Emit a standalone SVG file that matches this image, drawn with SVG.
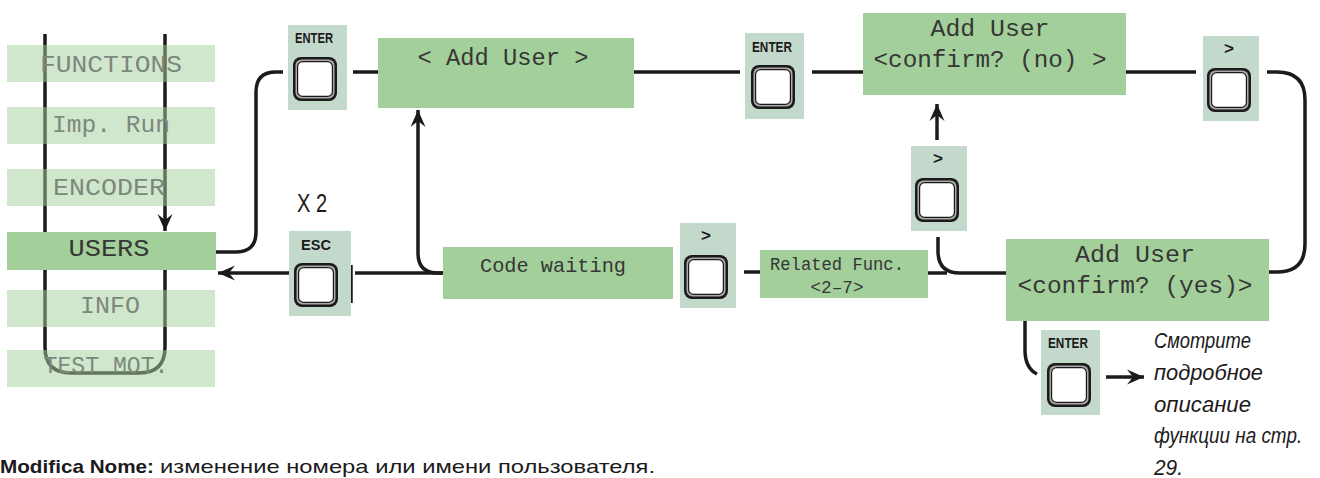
<svg xmlns="http://www.w3.org/2000/svg" xmlns:xlink="http://www.w3.org/1999/xlink" width="1320" height="478" viewBox="0 0 1320 478">
<style>
.ln{fill:none;stroke:#1c1a1b;stroke-width:3.5;stroke-linecap:butt}
.panel{fill:#c3d9cb}
.lcd{fill:#a3cf9b}
.menu{fill:#a3cf9b;opacity:0.5}
.lt{font-family:"Liberation Mono","DejaVu Sans Mono",monospace;fill:#363636;text-anchor:middle}
.mt{font-family:"Liberation Mono","DejaVu Sans Mono",monospace;fill:#7d887c;text-anchor:middle;font-size:24px}
.key{font-family:"Liberation Sans",Arial,sans-serif;font-weight:bold;fill:#1c1a1b;text-anchor:middle}
.ru{font-family:"Liberation Sans",Arial,sans-serif;font-style:italic;fill:#1c1a1b;font-size:22px}
</style>
<defs>
<g id="btn">
<rect x="0" y="0" width="44" height="44" rx="8" fill="#1c1a1b"/>
<rect x="2.5" y="2.5" width="39" height="39" rx="6" fill="#a9a9a9"/>
<rect x="4.6" y="4.6" width="34.8" height="34.8" rx="5" fill="#ffffff" stroke="#1c1a1b" stroke-width="1.2"/>
</g>
<marker id="ah" viewBox="-18 -8 19 16" refX="0" refY="0" markerWidth="19" markerHeight="16" markerUnits="userSpaceOnUse" orient="auto">
<path d="M0,0 L-17,-7.5 L-11,0 L-17,7.5 Z" fill="#1c1a1b"/>
</marker>
</defs>
<rect width="1320" height="478" fill="#ffffff"/>

<g id="connectors">
<path class="ln" d="M45,34 V347 Q45,373 71,373 H139 Q165,373 165,347 V270"/>
<path class="ln" d="M165,34 V231" marker-end="url(#ah)"/>
<path class="ln" d="M216,252 H236 Q256,252 256,232 V92 Q256,72 276,72 H283"/>
<path class="ln" d="M353,72 H378"/>
<path class="ln" d="M634,72 H740"/>
<path class="ln" d="M812,72 H863"/>
<path class="ln" d="M1126,72 H1196"/>
<path class="ln" d="M1267,72 H1277 Q1305,72 1305,100 V244 Q1305,272 1277,272 H1269"/>
<path class="ln" d="M289,273 H218" marker-end="url(#ah)"/>
<path class="ln" d="M351,265 V303"/>
<path class="ln" d="M355,273 H443"/>
<path class="ln" d="M443,273 H438 Q418,273 418,253 V110" marker-end="url(#ah)"/>
<path class="ln" d="M744,272 H760"/>
<path class="ln" d="M927,273 H947"/>
<path class="ln" d="M938,237 V251 Q938,273 960,273 H1006"/>
<path class="ln" d="M937,140 V104" marker-end="url(#ah)"/>
<path class="ln" d="M1025,321 V350 Q1025,368 1037,374"/>
<path class="ln" d="M1106,377 H1144" marker-end="url(#ah)"/>
</g>

<g id="menu-functions"><rect class="menu" x="7" y="45" width="208" height="37"/><text class="mt" x="111" y="72" textLength="142" lengthAdjust="spacingAndGlyphs">FUNCTIONS</text></g>
<g id="menu-imprun"><rect class="menu" x="7" y="107" width="208" height="37"/><text class="mt" x="111" y="132" textLength="118" lengthAdjust="spacingAndGlyphs">Imp. Run</text></g>
<g id="menu-encoder"><rect class="menu" x="7" y="169" width="208" height="37"/><text class="mt" x="109" y="195" textLength="112" lengthAdjust="spacingAndGlyphs">ENCODER</text></g>
<g id="menu-users"><rect class="lcd" x="7" y="232" width="209" height="38"/><text class="lt" x="109" y="256" font-size="24" textLength="81" lengthAdjust="spacingAndGlyphs">USERS</text></g>
<g id="menu-info"><rect class="menu" x="7" y="290" width="208" height="37"/><text class="mt" x="110" y="313" textLength="60" lengthAdjust="spacingAndGlyphs">INFO</text></g>
<g id="menu-testmot"><rect class="menu" x="7" y="350" width="208" height="37"/><text class="mt" x="106" y="373" textLength="125" lengthAdjust="spacingAndGlyphs">TEST MOT.</text></g>

<g id="key-enter1"><rect class="panel" x="288" y="25" width="59" height="85"/><text class="key" x="314" y="43" font-size="14" textLength="38" lengthAdjust="spacingAndGlyphs">ENTER</text><use xlink:href="#btn" x="293" y="57"/></g>

<g id="lcd-adduser"><rect class="lcd" x="378" y="38" width="256" height="70"/><text class="lt" x="503" y="65" font-size="24" textLength="171" lengthAdjust="spacingAndGlyphs">&lt; Add User &gt;</text></g>

<g id="key-enter2"><rect class="panel" x="745" y="33" width="59" height="86"/><text class="key" x="772" y="52" font-size="14" textLength="40" lengthAdjust="spacingAndGlyphs">ENTER</text><use xlink:href="#btn" x="751" y="65"/></g>

<g id="lcd-confirm-no"><rect class="lcd" x="863" y="13" width="263" height="82"/><text class="lt" x="990" y="36" font-size="24" textLength="119" lengthAdjust="spacingAndGlyphs">Add User</text><text class="lt" x="990" y="67" font-size="24" textLength="233" lengthAdjust="spacingAndGlyphs">&lt;confirm? (no) &gt;</text></g>

<g id="key-next4"><rect class="panel" x="1203" y="36" width="56" height="85"/><text class="key" x="1229" y="54" font-size="17">&gt;</text><use xlink:href="#btn" x="1207" y="68"/></g>

<g id="key-esc"><rect class="panel" x="289" y="231" width="62" height="85"/><text class="key" x="316" y="250" font-size="14" textLength="30" lengthAdjust="spacingAndGlyphs">ESC</text><use xlink:href="#btn" x="294" y="263"/></g>
<text id="label-x2" x="297" y="212" font-family="'Liberation Sans',Arial,sans-serif" font-size="25" fill="#1c1a1b" textLength="30" lengthAdjust="spacingAndGlyphs">X 2</text>

<g id="lcd-codewaiting"><rect class="lcd" x="443" y="247" width="230" height="52"/><text class="lt" x="553" y="272" font-size="21" textLength="146" lengthAdjust="spacingAndGlyphs">Code waiting</text></g>

<g id="key-next2"><rect class="panel" x="680" y="223" width="56" height="85"/><text class="key" x="706" y="241" font-size="17">&gt;</text><use xlink:href="#btn" x="684" y="255"/></g>

<g id="lcd-related"><rect class="lcd" x="760" y="250" width="168" height="48"/><text class="lt" x="837" y="270" font-size="18" textLength="134" lengthAdjust="spacingAndGlyphs">Related Func.</text><text class="lt" x="837" y="293" font-size="18" textLength="53" lengthAdjust="spacingAndGlyphs">&lt;2–7&gt;</text></g>

<g id="key-next3"><rect class="panel" x="911" y="146" width="56" height="85"/><text class="key" x="938" y="164" font-size="17">&gt;</text><use xlink:href="#btn" x="915" y="178"/></g>

<g id="lcd-confirm-yes"><rect class="lcd" x="1006" y="239" width="263" height="82"/><text class="lt" x="1135" y="262" font-size="24" textLength="120" lengthAdjust="spacingAndGlyphs">Add User</text><text class="lt" x="1135" y="293" font-size="24" textLength="235" lengthAdjust="spacingAndGlyphs">&lt;confirm? (yes)&gt;</text></g>

<g id="key-enter3"><rect class="panel" x="1041" y="330" width="59" height="85"/><text class="key" x="1068" y="348" font-size="14" textLength="40" lengthAdjust="spacingAndGlyphs">ENTER</text><use xlink:href="#btn" x="1047" y="363"/></g>

<g id="note">
<text class="ru" x="1154" y="348" textLength="97" lengthAdjust="spacingAndGlyphs">Смотрите</text>
<text class="ru" x="1154" y="380" textLength="109" lengthAdjust="spacingAndGlyphs">подробное</text>
<text class="ru" x="1154" y="412" textLength="97" lengthAdjust="spacingAndGlyphs">описание</text>
<text class="ru" transform="translate(1154,443) scale(0.86,1)" x="0" y="0">функции на стр.</text>
<text class="ru" x="1154" y="475" textLength="29" lengthAdjust="spacingAndGlyphs">29.</text>
</g>

<text id="footer" x="0" y="473" font-family="'Liberation Sans',Arial,sans-serif" font-size="19" fill="#1c1a1b"><tspan font-weight="bold" textLength="154" lengthAdjust="spacingAndGlyphs">Modifica Nome:</tspan><tspan x="160" textLength="495" lengthAdjust="spacingAndGlyphs">изменение номера или имени пользователя.</tspan></text>
</svg>
